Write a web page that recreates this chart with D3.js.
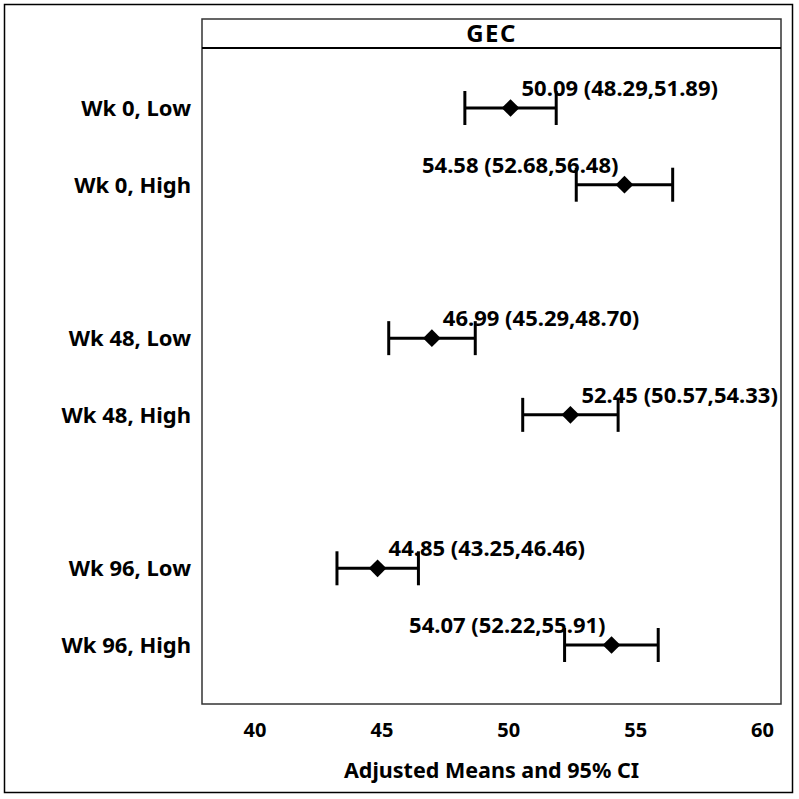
<!DOCTYPE html>
<html>
<head>
<meta charset="utf-8">
<script src="https://cdn.jsdelivr.net/npm/d3@7"></script>
<style>
  body { margin: 0; background: #fff; }
  text { font-family: "Noto Sans", sans-serif; font-weight: bold; fill: #000; }
</style>
</head>
<body>
<div id="chart"></div>
<script>
// rows, top to bottom ("" = empty spacer row between weeks)
const rows = ["Wk 0, Low", "Wk 0, High", "", "Wk 48, Low", "Wk 48, High", " ", "Wk 96, Low", "Wk 96, High"]
const groups = ["Wk 0, Low", "Wk 0, High", "Wk 48, Low", "Wk 48, High", "Wk 96, Low", "Wk 96, High"]
const means = [50.09, 54.58, 46.99, 52.45, 44.85, 54.07]
const lower = [48.29, 52.68, 45.29, 50.57, 43.25, 52.22]
const upper = [51.89, 56.48, 48.70, 54.33, 46.46, 55.91]
const xTicks = [40, 45, 50, 55, 60]
const panelTitle = "GEC"
const xTitle = "Adjusted Means and 95% CI"

const width = 799
const height = 799
const panel = { left: 202, right: 781, top: 19, strip: 48, bottom: 704 }

const svg = d3.select("#chart").append("svg")
  .attr("width", width)
  .attr("height", height)

// outer frame
svg.append("rect")
  .attr("x", 4.5).attr("y", 4.5)
  .attr("width", 788).attr("height", 788)
  .attr("fill", "none").attr("stroke", "#000").attr("stroke-width", 1.5)

const x = d3.scaleLinear().domain([40, 60]).range([254.5, 762])
const y = d3.scalePoint().domain(rows).range([108, 645])

const data = groups.map((g, i) => ({ group: g, mean: means[i], lo: lower[i], hi: upper[i] }))

// panel box and header strip
svg.append("rect")
  .attr("x", panel.left).attr("y", panel.top)
  .attr("width", panel.right - panel.left).attr("height", panel.bottom - panel.top)
  .attr("fill", "none").attr("stroke", "#333").attr("stroke-width", 1.5)

svg.append("line")
  .attr("x1", panel.left).attr("x2", panel.right)
  .attr("y1", panel.strip).attr("y2", panel.strip)
  .attr("stroke", "#000").attr("stroke-width", 2)

svg.append("text")
  .attr("x", (panel.left + panel.right) / 2)
  .attr("y", 42)
  .attr("text-anchor", "middle")
  .attr("font-size", 24)
  .attr("letter-spacing", 1.5)
  .text(panelTitle)

// category labels
const yAxis = svg.append("g")
  .attr("transform", "translate(" + (panel.left - 11) + ",0)")
  .call(d3.axisLeft(y).tickSize(0).tickPadding(0))
yAxis.select(".domain").remove()
yAxis.selectAll("text")
  .attr("font-size", 22)
  .attr("dy", "0.35em")
  .attr("font-family", null)

// x tick labels
const xAxis = svg.append("g")
  .attr("transform", "translate(0," + panel.bottom + ")")
  .call(d3.axisBottom(x).tickValues(xTicks).tickSize(0).tickPadding(0))
xAxis.select(".domain").remove()
xAxis.selectAll("text")
  .attr("font-size", 20)
  .attr("y", 33)
  .attr("dy", null)
  .attr("font-family", null)

svg.append("text")
  .attr("x", (panel.left + panel.right) / 2)
  .attr("y", 778)
  .attr("text-anchor", "middle")
  .attr("font-size", 21.5)
  .text(xTitle)

// error bars
const bars = svg.append("g").selectAll("g")
  .data(data)
  .join("g")
  .attr("transform", d => "translate(0," + y(d.group) + ")")

bars.append("line")
  .attr("x1", d => x(d.lo)).attr("x2", d => x(d.hi))
  .attr("stroke", "#000").attr("stroke-width", 3)

bars.selectAll(".cap")
  .data(d => [d.lo, d.hi])
  .join("line")
  .attr("class", "cap")
  .attr("x1", v => x(v)).attr("x2", v => x(v))
  .attr("y1", -17).attr("y2", 17)
  .attr("stroke", "#000").attr("stroke-width", 3)

bars.append("path")
  .attr("d", d3.symbol(d3.symbolDiamond2, 200))
  .attr("transform", d => "translate(" + x(d.mean) + ",0)")
  .attr("fill", "#000")

// value labels: right of the marker if they fit in the panel, otherwise left
bars.append("text")
  .attr("font-size", 22)
  .attr("y", -12)
  .text(d => d.mean.toFixed(2) + " (" + d.lo.toFixed(2) + "," + d.hi.toFixed(2) + ")")
  .each(function(d) {
    const t = d3.select(this)
    const w = this.getComputedTextLength()
    const right = x(d.mean) + 11
    if (right + w < panel.right) t.attr("x", right)
    else t.attr("x", x(d.mean) - 6).attr("text-anchor", "end")
  })
</script>
</body>
</html>
